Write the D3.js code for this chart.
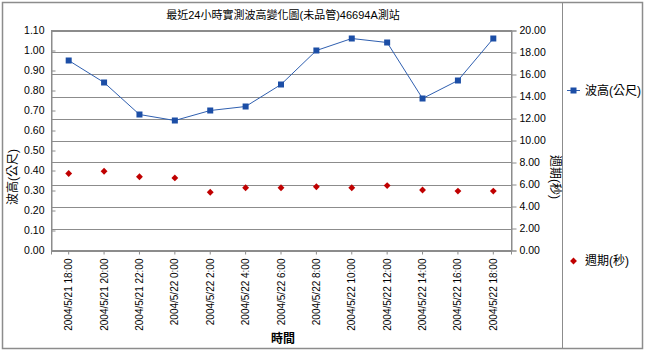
<!DOCTYPE html>
<html lang="zh-Hant">
<head>
<meta charset="UTF-8">
<title>波高變化圖</title>
<script src="https://d3js.org/d3.v7.min.js"></script>
<style>
    body { margin: 0; background: #fff; }
    svg text { font-family: "Liberation Sans", Arial, "Noto Sans CJK TC", sans-serif; fill: #000; }
</style>
</head>
<body>
<div class="chartContainer"></div>
<script>
    // 資料
    const times = ['2004/5/21 18:00', '2004/5/21 20:00', '2004/5/21 22:00', '2004/5/22 0:00',
                   '2004/5/22 2:00', '2004/5/22 4:00', '2004/5/22 6:00', '2004/5/22 8:00',
                   '2004/5/22 10:00', '2004/5/22 12:00', '2004/5/22 14:00', '2004/5/22 16:00',
                   '2004/5/22 18:00'];
    const waveHeight = [0.95, 0.84, 0.68, 0.65, 0.70, 0.72, 0.83, 1.00, 1.06, 1.04, 0.76, 0.85, 1.06];
    const period = [7.0, 7.2, 6.7, 6.6, 5.3, 5.7, 5.7, 5.8, 5.7, 5.9, 5.5, 5.4, 5.4];
    const leftTicks = d3.range(0, 12).map(i => i / 10);
    const rightTicks = d3.range(0, 11).map(i => i * 2);

    const width = 645, height = 351;
    const plot = {left: 51, right: 511, top: 30.5, bottom: 250.5};

    const svg = d3.select('.chartContainer')
        .append('svg')
        .attr('width', width)
        .attr('height', height);

    // 外框與圖例分隔線
    svg.append('rect')
        .attr('x', 2.5).attr('y', 2.5)
        .attr('width', 640).attr('height', 346)
        .attr('fill', 'none')
        .attr('stroke', '#8c8c8c')
        .attr('stroke-width', 1.5);
    svg.append('line')
        .attr('x1', 562.5).attr('x2', 562.5)
        .attr('y1', 3).attr('y2', 348)
        .attr('stroke', '#8c8c8c');

    const x = d3.scaleBand().domain(times).range([plot.left, plot.right]);
    const yL = d3.scaleLinear().domain([0, 1.1]).range([plot.bottom, plot.top]);
    const yR = d3.scaleLinear().domain([0, 20]).range([plot.bottom, plot.top]);
    const cx = d => x(d) + x.bandwidth() / 2;

    // 格線（依右軸）
    svg.append('g')
        .selectAll('line')
        .data(rightTicks)
        .enter()
        .append('line')
        .attr('x1', plot.left).attr('x2', plot.right)
        .attr('y1', d => Math.round(yR(d)) + 0.5)
        .attr('y2', d => Math.round(yR(d)) + 0.5)
        .attr('stroke', '#8c8c8c');

    // 繪圖區框
    svg.append('rect')
        .attr('x', plot.left + 0.5).attr('y', plot.top)
        .attr('width', plot.right - plot.left).attr('height', plot.bottom - plot.top)
        .attr('fill', 'none')
        .attr('stroke', '#8c8c8c');

    // 左軸
    const leftAxis = svg.append('g')
        .attr('transform', `translate(${plot.left + 0.5},0)`)
        .call(d3.axisLeft(yL).tickValues(leftTicks).tickFormat(d3.format('.2f')).tickSize(-4).tickPadding(7));
    // 右軸
    const rightAxis = svg.append('g')
        .attr('transform', `translate(${plot.right + 0.5},0)`)
        .call(d3.axisRight(yR).tickValues(rightTicks).tickFormat(d3.format('.2f')).tickSize(5).tickPadding(3));
    // 下軸
    const bottomAxis = svg.append('g')
        .attr('transform', `translate(0,${plot.bottom})`)
        .call(d3.axisBottom(x).tickSize(4).tickPadding(6));

    [leftAxis, rightAxis, bottomAxis].forEach(g => {
        g.select('.domain').attr('stroke', '#8c8c8c');
        g.selectAll('.tick line').attr('stroke', '#8c8c8c');
        g.selectAll('text').style('font-size', '10.5px').attr('fill', '#000');
    });
    bottomAxis.selectAll('text')
        .attr('transform', 'rotate(-90)')
        .attr('x', -8)
        .attr('y', 0)
        .attr('dy', '0.35em')
        .style('font-size', '10px')
        .style('text-anchor', 'end');

    // 波高折線
    const line = d3.line()
        .x((d, i) => cx(times[i]))
        .y(d => yL(d));
    svg.append('path')
        .datum(waveHeight)
        .attr('d', line)
        .attr('fill', 'none')
        .attr('stroke', '#2f5fb0')
        .attr('stroke-width', 1);
    svg.append('g')
        .selectAll('rect')
        .data(waveHeight)
        .enter()
        .append('rect')
        .attr('x', (d, i) => cx(times[i]) - 3)
        .attr('y', d => yL(d) - 3)
        .attr('width', 6).attr('height', 6)
        .attr('fill', '#1c4ea6');

    // 週期散點
    const diamond = d3.symbol().type(d3.symbolDiamond2).size(30);
    svg.append('g')
        .selectAll('path')
        .data(period)
        .enter()
        .append('path')
        .attr('d', diamond)
        .attr('transform', (d, i) => `translate(${cx(times[i])},${yR(d)})`)
        .attr('fill', '#c00000');

    // 標題
    svg.append('text')
        .attr('x', 283).attr('y', 19)
        .style('text-anchor', 'middle')
        .style('font-size', '11px')
        .text('最近24小時實測波高變化圖(未品管)46694A測站');
    svg.append('text')
        .attr('transform', 'translate(17,177) rotate(-90)')
        .style('text-anchor', 'middle')
        .style('font-size', '12px')
        .text('波高(公尺)');
    svg.append('text')
        .attr('transform', 'translate(551,177) rotate(90)')
        .style('text-anchor', 'middle')
        .style('font-size', '12px')
        .text('週期(秒)');
    svg.append('text')
        .attr('x', 283).attr('y', 343)
        .style('text-anchor', 'middle')
        .style('font-size', '12px')
        .style('font-weight', 'bold')
        .text('時間');

    // 圖例
    const legend = svg.append('g');
    legend.append('line')
        .attr('x1', 567).attr('x2', 580)
        .attr('y1', 90.5).attr('y2', 90.5)
        .attr('stroke', '#2f5fb0');
    legend.append('rect')
        .attr('x', 570.5).attr('y', 87.5)
        .attr('width', 6).attr('height', 6)
        .attr('fill', '#1c4ea6');
    legend.append('text')
        .attr('x', 585).attr('y', 95)
        .style('font-size', '12px')
        .text('波高(公尺)');
    legend.append('path')
        .attr('d', diamond)
        .attr('transform', 'translate(573.5,261)')
        .attr('fill', '#c00000');
    legend.append('text')
        .attr('x', 585).attr('y', 265)
        .style('font-size', '12px')
        .text('週期(秒)');
</script>
</body>
</html>
